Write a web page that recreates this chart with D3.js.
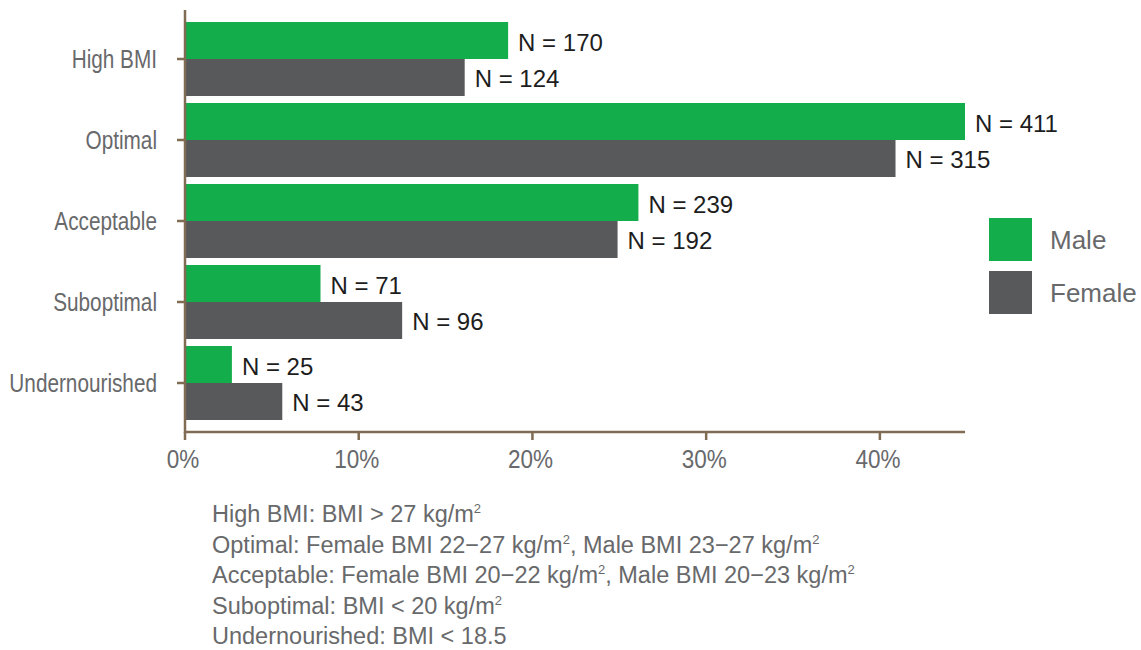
<!DOCTYPE html>
<html>
<head>
<meta charset="utf-8">
<script src="https://cdn.jsdelivr.net/npm/d3@7"></script>
<style>
  html, body { margin: 0; padding: 0; background: #fff; }
  svg { display: block; }
  text { font-family: "Liberation Sans", Arial, sans-serif; }
</style>
</head>
<body>
<svg id="chart" width="1141" height="650"></svg>
<script>
// BMI categories, top to bottom
const categories = ["High BMI", "Optimal", "Acceptable", "Suboptimal", "Undernourished"];
// Share of each sex in each category (%)
const malePct   = [18.6, 44.9, 26.1, 7.8, 2.7];
const femalePct = [16.1, 40.9, 24.9, 12.5, 5.6];
// Counts shown next to the bars
const maleN   = [170, 411, 239, 71, 25];
const femaleN = [124, 315, 192, 96, 43];
const series = ["Male", "Female"];
const xTicks = [0, 10, 20, 30, 40];
// Footnote lines: plain text and superscript pieces alternate
const notes = [
  ["High BMI: BMI > 27 kg/m", "2"],
  ["Optimal: Female BMI 22\u221227 kg/m", "2", ", Male BMI 23\u221227 kg/m", "2"],
  ["Acceptable: Female BMI 20\u221222 kg/m", "2", ", Male BMI 20\u221223 kg/m", "2"],
  ["Suboptimal: BMI < 20 kg/m", "2"],
  ["Undernourished: BMI < 18.5"]
];

const colors = { Male: "#14ad4b", Female: "#58595b" };
const axisColor = "#806b53";
const labelGrey = "#68696b";

const svg = d3.select("#chart");

const x0 = 185, x1 = 965, yTop = 10, yBase = 432;
const x = d3.scaleLinear().domain([0, d3.max(malePct)]).range([x0, x1]);
const y = d3.scaleBand().domain(categories).range([18.5, 423.5])
  .paddingInner(7 / 81).paddingOuter(3.5 / 81);
const sub = d3.scaleBand().domain(series).range([0, y.bandwidth()]);

const rows = categories.map((c, i) => ({
  cat: c,
  vals: [
    { s: "Male", v: malePct[i], n: maleN[i] },
    { s: "Female", v: femalePct[i], n: femaleN[i] }
  ]
}));

// bars
const g = svg.append("g");
const grp = g.selectAll("g.row").data(rows).join("g")
  .attr("class", "row")
  .attr("transform", d => `translate(0,${y(d.cat)})`);

grp.selectAll("rect").data(d => d.vals).join("rect")
  .attr("x", x(0))
  .attr("y", d => sub(d.s))
  .attr("width", d => x(d.v) - x(0))
  .attr("height", sub.bandwidth())
  .attr("fill", d => colors[d.s]);

grp.selectAll("text.n").data(d => d.vals).join("text")
  .attr("class", "n")
  .attr("x", d => x(d.v) + 10)
  .attr("y", d => sub(d.s) + sub.bandwidth() / 2 + (d.s === "Male" ? 10 : 9))
  .attr("font-size", 24)
  .attr("fill", "#1d1d1d")
  .text(d => `N = ${d.n}`);

// axes
svg.append("line").attr("x1", x0).attr("x2", x0).attr("y1", yTop).attr("y2", yBase + 1)
  .attr("stroke", axisColor).attr("stroke-width", 2.5);
svg.append("line").attr("x1", x0).attr("x2", x1).attr("y1", yBase).attr("y2", yBase)
  .attr("stroke", axisColor).attr("stroke-width", 2.5);

const yAx = svg.append("g");
yAx.selectAll("line").data(categories).join("line")
  .attr("x1", x0 - 8).attr("x2", x0)
  .attr("y1", d => y(d) + y.bandwidth() / 2).attr("y2", d => y(d) + y.bandwidth() / 2)
  .attr("stroke", axisColor).attr("stroke-width", 2.5);
yAx.selectAll("text").data(categories).join("text")
  .attr("transform", d => `translate(157,${y(d) + y.bandwidth() / 2 + 9}) scale(0.83,1)`)
  .attr("text-anchor", "end")
  .attr("font-size", 25)
  .attr("fill", labelGrey)
  .text(d => d);

const xAx = svg.append("g");
xAx.selectAll("line").data(xTicks).join("line")
  .attr("x1", d => x(d)).attr("x2", d => x(d))
  .attr("y1", yBase).attr("y2", yBase + 8)
  .attr("stroke", axisColor).attr("stroke-width", 2.5);
xAx.selectAll("text").data(xTicks).join("text")
  .attr("transform", d => `translate(${x(d) - 2},468) scale(0.9,1)`)
  .attr("text-anchor", "middle")
  .attr("font-size", 25)
  .attr("fill", labelGrey)
  .text(d => d + "%");

// legend
const leg = svg.append("g").attr("transform", "translate(989,218)");
series.forEach((s, i) => {
  leg.append("rect").attr("x", 0).attr("y", i * 53).attr("width", 43).attr("height", 43)
    .attr("fill", colors[s]);
  leg.append("text").attr("x", 61).attr("y", i * 53 + 31)
    .attr("font-size", 26).attr("fill", labelGrey).text(s);
});

// footnotes
const fn = svg.append("g");
notes.forEach((parts, i) => {
  const t = fn.append("text").attr("x", 212).attr("y", 522 + i * 30.5)
    .attr("font-size", 23.5).attr("fill", labelGrey);
  parts.forEach((p, j) => {
    const sup = j % 2 === 1;
    t.append("tspan").attr("font-size", sup ? 13 : 23.5)
      .attr("dy", sup ? -9 : (j > 0 ? 9 : 0))
      .text(p);
  });
});
</script>
</body>
</html>
